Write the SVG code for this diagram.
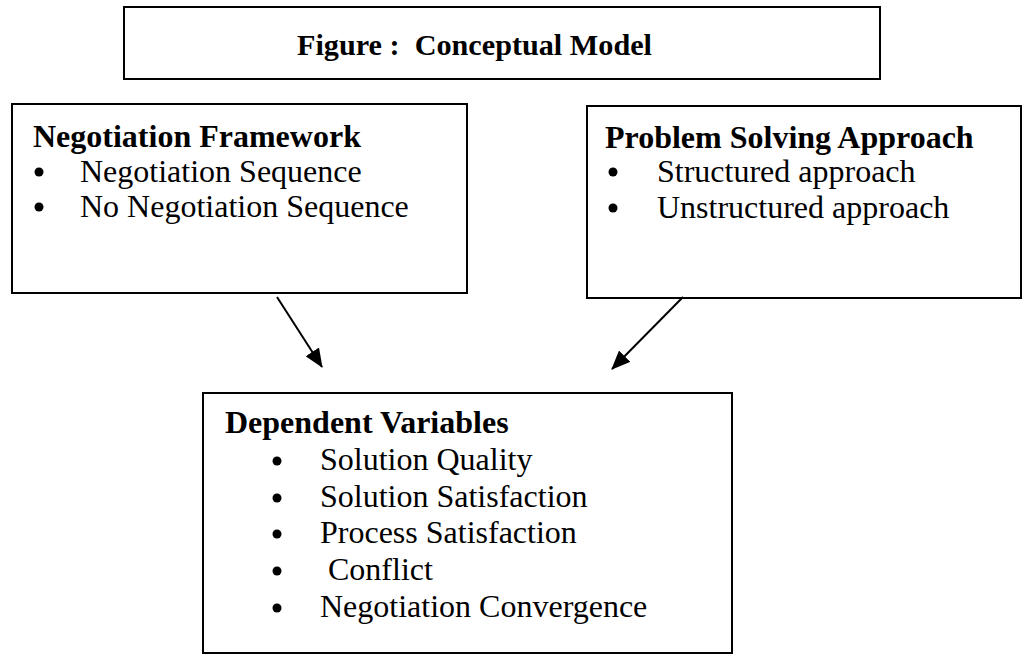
<svg xmlns="http://www.w3.org/2000/svg" width="1022" height="657" viewBox="0 0 1022 657">
<style>
.box{fill:#fff;stroke:#000;stroke-width:2}
.h{font-family:"Liberation Serif","Times New Roman",serif;font-weight:bold;font-size:32px;fill:#000}
.t{font-family:"Liberation Serif","Times New Roman",serif;font-size:32px;fill:#000}
.ttl{font-family:"Liberation Serif","Times New Roman",serif;font-weight:bold;font-size:30.2px;fill:#000;white-space:pre}
.b{fill:#000}
.c{stroke:#000;stroke-width:2;fill:none}
</style>
<defs>
<marker id="arr" markerWidth="19" markerHeight="16" refX="18" refY="8" orient="auto" markerUnits="userSpaceOnUse">
<path d="M0,0 L19,8 L0,16 Z" fill="#000"/>
</marker>
</defs>
<rect width="1022" height="657" fill="#fff"/>
<g id="title">
<rect class="box" x="124" y="7" width="756" height="72"/>
<text class="ttl" x="297" y="55">Figure :  Conceptual Model</text>
</g>
<g id="negotiation-framework">
<rect class="box" x="12" y="104" width="455" height="189"/>
<text class="h" x="33" y="147">Negotiation Framework</text>
<circle class="b" cx="39" cy="172" r="4.5"/>
<text class="t" x="80" y="182">Negotiation Sequence</text>
<circle class="b" cx="39" cy="207" r="4.5"/>
<text class="t" x="80" y="217">No Negotiation Sequence</text>
</g>
<g id="problem-solving">
<rect class="box" x="587" y="106" width="434" height="192"/>
<text class="h" x="605" y="148">Problem Solving Approach</text>
<circle class="b" cx="613" cy="172" r="4.5"/>
<text class="t" x="657" y="182">Structured approach</text>
<circle class="b" cx="613" cy="208" r="4.5"/>
<text class="t" x="657" y="218">Unstructured approach</text>
</g>
<g id="dependent-variables">
<rect class="box" x="203" y="393" width="529" height="260"/>
<text class="h" x="225" y="433">Dependent Variables</text>
<circle class="b" cx="277" cy="461" r="4.5"/>
<text class="t" x="320" y="470">Solution Quality</text>
<circle class="b" cx="277" cy="498" r="4.5"/>
<text class="t" x="320" y="507">Solution Satisfaction</text>
<circle class="b" cx="277" cy="534" r="4.5"/>
<text class="t" x="320" y="543">Process Satisfaction</text>
<circle class="b" cx="277" cy="571" r="4.5"/>
<text class="t" x="328" y="580">Conflict</text>
<circle class="b" cx="277" cy="608" r="4.5"/>
<text class="t" x="320" y="617">Negotiation Convergence</text>
</g>
<g id="connectors">
<line class="c" x1="277" y1="297" x2="322" y2="367" marker-end="url(#arr)"/>
<line class="c" x1="683" y1="297" x2="612" y2="369" marker-end="url(#arr)"/>
</g>
</svg>
